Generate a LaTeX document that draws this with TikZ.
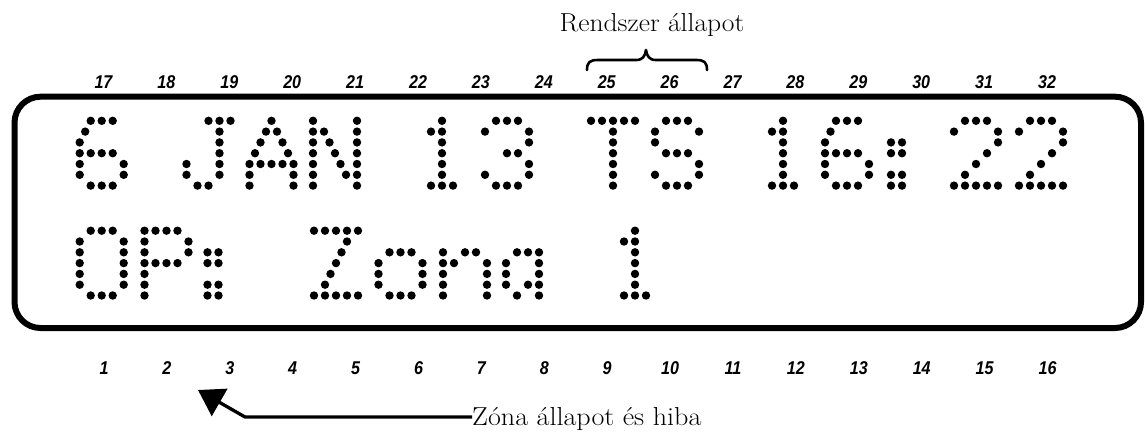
\documentclass[tikz,border=0pt]{standalone}
\usepackage{fontspec}
\setsansfont{Liberation Sans}
\usetikzlibrary{arrows.meta}
\tikzset{
  lcddot/.style={fill=black},
  numlbl/.style={font=\sffamily\bfseries\itshape\fontsize{18.5}{20}\selectfont, inner sep=0pt},
  caption/.style={font=\fontsize{26}{29}\selectfont, inner sep=0pt},
  lcdframe/.style={line width=6pt, rounded corners=26pt},
  bracestyle/.style={line width=2.6pt, line cap=round, line join=round},
  zarrow/.style={line width=3.3pt, -{Triangle[length=25pt,width=31pt]}},
}
\newcommand\lcdchar[3]{\foreach \dx/\dy in #3 {\fill[lcddot] ({#1+(\dx-3)*11},{#2+(\dy-1)*10.8}) circle[radius=4.2pt];}}
\def\lcdSix{2/1,3/1,4/1,1.5/2,1/3,1/4,2/4,3/4,4/4,1/5,5/5,1/6,5/6,2/7,3/7,4/7}
\def\lcdJ{3/1,4/1,5/1,4/2,4/3,4/4,1/5,4/5,1/6,4/6,2/7,3/7}
\def\lcdA{3/1,2.5/2,3.5/2,2/3,4/3,1.5/4,4.5/4,1/5,2/5,3/5,4/5,5/5,1/6,5/6,1/7,5/7}
\def\lcdN{1/1,1/2,1/3,1/4,1/5,1/6,1/7,5/1,5/2,5/3,5/4,5/5,5/6,5/7,2/2,2.5/3,3/4,3.5/5,4/6}
\def\lcdOne{3/1,2/2,3/2,3/3,3/4,3/5,3/6,2/7,3/7,4/7}
\def\lcdThree{2/1,3/1,4/1,1/2,5/2,5/3,3/4,4/4,5/5,1/6,5/6,2/7,3/7,4/7}
\def\lcdT{1/1,2/1,3/1,4/1,5/1,3/2,3/3,3/4,3/5,3/6,3/7}
\def\lcdS{2/1,3/1,4/1,1/2,5/2,1/3,2/4,3/4,4/4,5/5,1/6,5/6,2/7,3/7,4/7}
\def\lcdColon{1/3,2/3,1/4,2/4,1/6,2/6,1/7,2/7}
\def\lcdTwo{2/1,3/1,4/1,1/2,5/2,5/3,4/4,3/5,2/6,1/7,2/7,3/7,4/7,5/7}
\def\lcdBigO{2/1,3/1,4/1,1/2,1/3,1/4,1/5,1/6,5/2,5/3,5/4,5/5,5/6,2/7,3/7,4/7}
\def\lcdP{1/1,2/1,3/1,4/1,1/2,5/2,1/3,5/3,1/4,2/4,3/4,4/4,1/5,1/6,1/7}
\def\lcdZ{1/1,2/1,3/1,4/1,5/1,4/2,3.5/3,3/4,2.5/5,2/6,1/7,2/7,3/7,4/7,5/7}
\def\lcdSmallO{2/3,3/3,4/3,1/4,5/4,1/5,5/5,1/6,5/6,2/7,3/7,4/7}
\def\lcdSmallN{1/3,3/3,4/3,1/4,2/4,5/4,1/5,5/5,1/6,5/6,1/7,5/7}
\def\lcdSmallA{2/3,3/3,4/3,1/4,4/4,1/5,4/5,1/6,3/6,4/6,2/7,4/7}
\begin{document}
\begin{tikzpicture}[x=1pt,y=-1pt]
\useasboundingbox (0,0) rectangle (1145,432);
% frame
\draw[lcdframe] (14.5,96.7) rectangle (1141,328);
% row 1: 6 JAN 13 TS 16:22
\def\ra{120.8}
\lcdchar{101.7}{\ra}{\lcdSix}
\lcdchar{208.5}{\ra}{\lcdJ}
\lcdchar{271.5}{\ra}{\lcdA}
\lcdchar{335}{\ra}{\lcdN}
\lcdchar{442}{\ra}{\lcdOne}
\lcdchar{507}{\ra}{\lcdThree}
\lcdchar{613}{\ra}{\lcdT}
\lcdchar{677}{\ra}{\lcdS}
\lcdchar{783}{\ra}{\lcdOne}
\lcdchar{847}{\ra}{\lcdSix}
\lcdchar{913}{\ra}{\lcdColon}
\lcdchar{976}{\ra}{\lcdTwo}
\lcdchar{1041}{\ra}{\lcdTwo}
% row 2: OP: Zona 1
\def\rb{230.7}
\lcdchar{101.7}{\rb}{\lcdBigO}
\lcdchar{166.5}{\rb}{\lcdP}
\lcdchar{229.5}{\rb}{\lcdColon}
\lcdchar{336}{\rb}{\lcdZ}
\lcdchar{400.5}{\rb}{\lcdSmallO}
\lcdchar{465}{\rb}{\lcdSmallN}
\lcdchar{528}{\rb}{\lcdSmallA}
\lcdchar{635}{\rb}{\lcdOne}
% column numbers
\foreach \i in {1,...,16}{
  \pgfmathtruncatemacro\topn{\i+16}
  \node[numlbl] (t\i) at ({103.5+62.9*(\i-1)},82.5) {\scalebox{0.87}[1]{\topn}};
  \node[numlbl] (b\i) at ({104+62.9*(\i-1)},368) {\scalebox{0.87}[1]{\i}};
}
% system status brace and caption
\node[caption, anchor=base] (sys) at (652,31.7) {\scalebox{1.06}[1]{Rendszer állapot}};
\draw[bracestyle] (587,70) .. controls (587,62) and (590,60) .. (598,60) -- (636,60)
  .. controls (643,60) and (645,56) .. (646,50)
  .. controls (647,56) and (649,60) .. (656,60) -- (696,60)
  .. controls (704,60) and (707,62) .. (707,70);
% zone status caption and arrow
\node[caption, anchor=base west] (zona) at (472,425) {\scalebox{1.08}[1]{Zóna állapot és hiba}};
\coordinate (bend) at (245,417);
\coordinate (tip) at (198,390);
\draw[zarrow] (bend -| zona.west) -- (bend) -- (tip);
\end{tikzpicture}
\end{document}
